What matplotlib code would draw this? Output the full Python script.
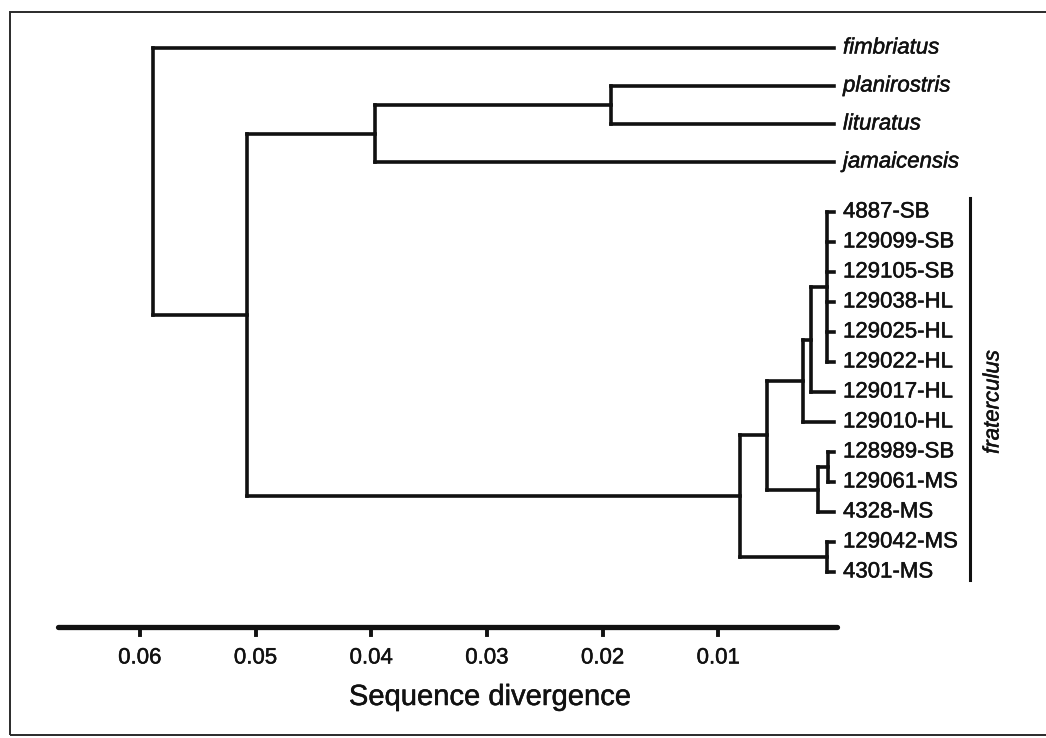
import matplotlib
matplotlib.use("Agg")
import matplotlib.pyplot as plt
import matplotlib.patheffects as pe
from matplotlib.patches import Rectangle

# leaves, top to bottom
species = ["fimbriatus", "planirostris", "lituratus", "jamaicensis"]
specimens = ["4887-SB", "129099-SB", "129105-SB", "129038-HL", "129025-HL",
             "129022-HL", "129017-HL", "129010-HL", "128989-SB", "129061-MS",
             "4328-MS", "129042-MS", "4301-MS"]

# internal nodes (children listed before parents), height = sequence divergence
clade_names = ["F", "E", "H", "D", "C", "B", "G", "A", "n4", "n3", "n2", "root"]
clade_children = [
    ["4887-SB", "129099-SB", "129105-SB", "129038-HL", "129025-HL", "129022-HL"],
    ["F", "129017-HL"],
    ["E", "129010-HL"],
    ["128989-SB", "129061-MS"],
    ["D", "4328-MS"],
    ["H", "C"],
    ["129042-MS", "4301-MS"],
    ["B", "G"],
    ["planirostris", "lituratus"],
    ["n4", "jamaicensis"],
    ["n3", "A"],
    ["fimbriatus", "n2"],
]
clade_heights = [0.0006, 0.0020, 0.0027, 0.0005, 0.0014, 0.0058,
                 0.0006, 0.0081, 0.0193, 0.0397, 0.0507, 0.0589]

scale_ticks = [0.06, 0.05, 0.04, 0.03, 0.02, 0.01]
scale_ends = [0.0671, -0.0003]
group_label = "fraterculus"
xlabel = "Sequence divergence"

# layout: divergence <-> pixel column
X0 = 834
PX_PER_UNIT = 11570


def px_to_d(px):
    return (X0 - px) / PX_PER_UNIT


ink = "#111111"
font = "Liberation Sans"
thick = [pe.withStroke(linewidth=0.35, foreground=ink)]

fig = plt.figure(figsize=(10.46, 7.38), dpi=100)
fig.patch.set_facecolor("white")
ax = fig.add_axes([0, 0, 1, 1])
ax.set_xlim(px_to_d(0), px_to_d(1046))
ax.set_ylim(738, 0)
ax.axis("off")

# page frame
fig.patches.append(Rectangle((10 / 1046, 3 / 738), 1.2, 723 / 738,
                             transform=fig.transFigure, fill=False,
                             edgecolor="#2a2a2a", linewidth=1.4))

ypos = {}
xpos = {}
for i, name in enumerate(species):
    ypos[name] = 48 + 38 * i
    xpos[name] = 0.0
for j, name in enumerate(specimens):
    ypos[name] = 212 + 30 * j
    xpos[name] = 0.0

lw = 2.6
for name, kids, h in zip(clade_names, clade_children, clade_heights):
    ys = [ypos[k] for k in kids]
    ypos[name] = (min(ys) + max(ys)) / 2
    xpos[name] = h
    ax.plot([h, h], [min(ys), max(ys)], color=ink, lw=lw,
            solid_capstyle="projecting")
    for k in kids:
        ax.plot([xpos[k], h], [ypos[k], ypos[k]], color=ink, lw=lw,
                solid_capstyle="projecting")

# tip labels
lab_x = px_to_d(843)
for name in species:
    ax.text(lab_x, ypos[name], name, fontsize=16, style="italic",
            family=font, va="center", ha="left", color=ink,
            path_effects=thick)
for name in specimens:
    ax.text(lab_x, ypos[name], name, fontsize=16, family=font,
            va="center", ha="left", color=ink, path_effects=thick)

# group bracket
ax.plot([px_to_d(970), px_to_d(970)], [198, 580], color=ink, lw=2.2)
ax.text(px_to_d(993), 402, group_label, rotation=90, fontsize=16,
        style="italic", family=font, va="center", ha="center", color=ink,
        path_effects=thick)

# scale bar
bar_y = 627
ax.plot(scale_ends, [bar_y, bar_y], color=ink, lw=3.8,
        solid_capstyle="round")
for t in scale_ticks:
    ax.plot([t, t], [bar_y, bar_y + 8], color=ink, lw=2.8)
    ax.text(t, 658, f"{t:.2f}", fontsize=16, family=font, ha="center",
            va="center", color=ink, path_effects=thick)

ax.text(px_to_d(490), 697, xlabel, fontsize=21, family=font,
        ha="center", va="center", color=ink, path_effects=thick)

fig.savefig("out.png", dpi=100, facecolor="white")
